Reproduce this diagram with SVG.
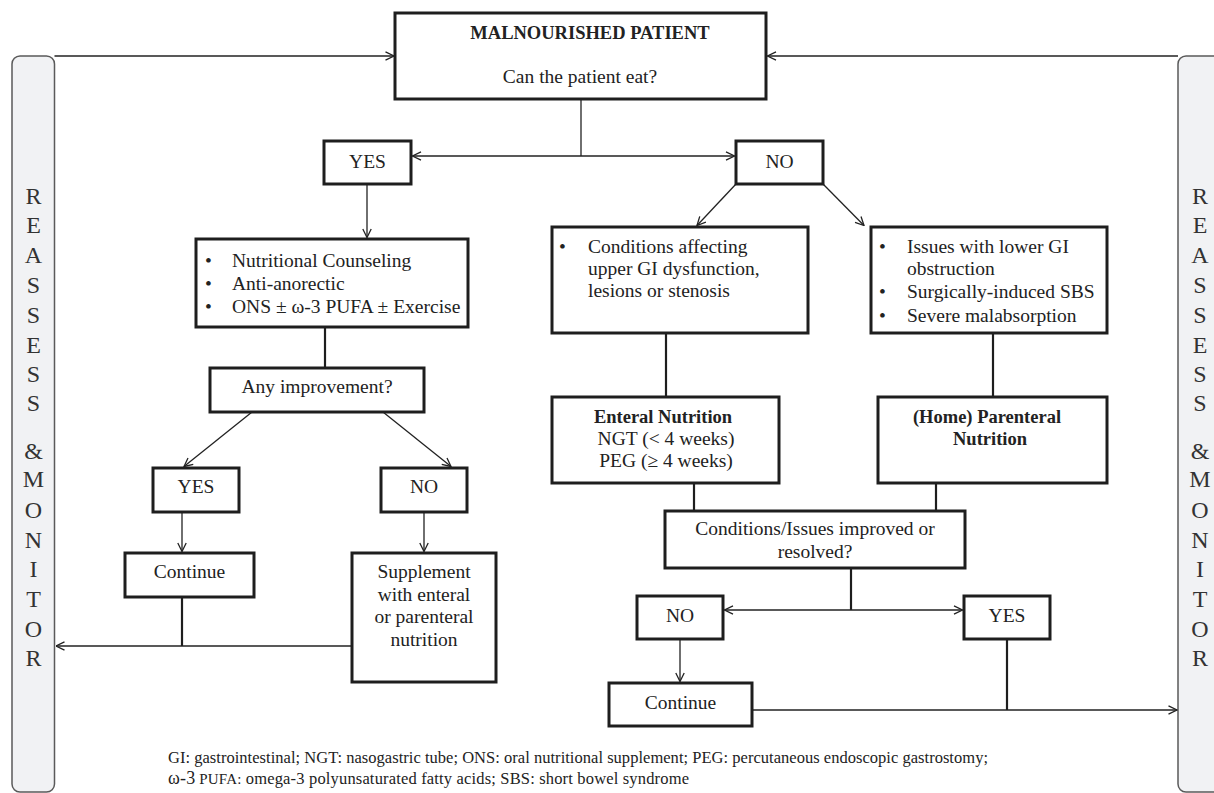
<svg xmlns="http://www.w3.org/2000/svg" width="1214" height="793" viewBox="0 0 1214 793">
<style>
.box{fill:#fff;stroke:#1e1e1e;stroke-width:3}
.side{fill:#f1f2f4;stroke:#5a5a5a;stroke-width:1.5}
.t{font-family:"Liberation Serif","Times New Roman",serif;font-size:19.5px;fill:#222}
.c{text-anchor:middle}
.b{font-weight:bold;font-size:18.5px}
.sl{font-family:"Liberation Serif","Times New Roman",serif;font-size:24px;fill:#333;text-anchor:middle}
.fn{font-family:"Liberation Serif","Times New Roman",serif;font-size:16.5px;fill:#222}
.ar{fill:none;stroke:#222;stroke-width:1.3;marker-end:url(#ah)}
.ln{fill:none;stroke:#1e1e1e;stroke-width:2.2}
.thin{fill:none;stroke:#222;stroke-width:1.3}
</style>
<defs>
<marker id="ah" viewBox="0 0 10 10" refX="9.5" refY="5" markerWidth="10" markerHeight="10" markerUnits="userSpaceOnUse" orient="auto">
<path d="M1,0.8 L9.5,5 L1,9.2" fill="none" stroke="#222" stroke-width="1.3"/>
</marker>
</defs>
<rect width="1214" height="793" fill="#fff"/>

<g id="reassess-left">
<rect class="side" x="12" y="56" width="42.5" height="736" rx="8"/>
<text class="sl" x="33.5" y="204">R</text>
<text class="sl" x="33.5" y="233">E</text>
<text class="sl" x="33.5" y="263">A</text>
<text class="sl" x="33.5" y="293">S</text>
<text class="sl" x="33.5" y="323">S</text>
<text class="sl" x="33.5" y="353">E</text>
<text class="sl" x="33.5" y="382">S</text>
<text class="sl" x="33.5" y="411">S</text>
<text class="sl" x="33.5" y="459">&amp;</text>
<text class="sl" x="33.5" y="487">M</text>
<text class="sl" x="33.5" y="518">O</text>
<text class="sl" x="33.5" y="548">N</text>
<text class="sl" x="33.5" y="577">I</text>
<text class="sl" x="33.5" y="607">T</text>
<text class="sl" x="33.5" y="637">O</text>
<text class="sl" x="33.5" y="666">R</text>
</g>

<g id="reassess-right">
<rect class="side" x="1178" y="56" width="60" height="736" rx="8"/>
<text class="sl" x="1200" y="204">R</text>
<text class="sl" x="1200" y="233">E</text>
<text class="sl" x="1200" y="263">A</text>
<text class="sl" x="1200" y="293">S</text>
<text class="sl" x="1200" y="323">S</text>
<text class="sl" x="1200" y="353">E</text>
<text class="sl" x="1200" y="382">S</text>
<text class="sl" x="1200" y="411">S</text>
<text class="sl" x="1200" y="459">&amp;</text>
<text class="sl" x="1200" y="487">M</text>
<text class="sl" x="1200" y="518">O</text>
<text class="sl" x="1200" y="548">N</text>
<text class="sl" x="1200" y="577">I</text>
<text class="sl" x="1200" y="607">T</text>
<text class="sl" x="1200" y="637">O</text>
<text class="sl" x="1200" y="666">R</text>
</g>

<g id="connectors">
<path class="ar" d="M54.5,56 H394"/>
<path class="ar" d="M1178,56 H767.5"/>
<path class="thin" d="M581,99 V156"/>
<path class="ar" d="M581,156 H412.5"/>
<path class="ar" d="M581,156 H734.5"/>
<path class="ar" d="M367,184 V237.5"/>
<path class="ar" d="M736,184 L697,225.5"/>
<path class="ar" d="M823,184 L864,225.5"/>
<path class="ln" d="M325,327 V368"/>
<path class="ar" d="M252,412 L184,466.5"/>
<path class="ar" d="M383,412 L451,466.5"/>
<path class="ar" d="M182,512 V551.5"/>
<path class="ar" d="M424,512 V551.5"/>
<path class="ln" d="M182,597 V646"/>
<path class="ar" d="M352,646 H56"/>
<path class="ln" d="M666,333 V397"/>
<path class="ln" d="M993,333 V397"/>
<path class="ln" d="M694,483 V511"/>
<path class="ln" d="M936,483 V511"/>
<path class="ln" d="M851,568 V610"/>
<path class="ar" d="M851,610 H724.5"/>
<path class="ar" d="M851,610 H962.5"/>
<path class="ar" d="M680,639 V681.5"/>
<path class="ln" d="M1007,639 V710"/>
<path class="ar" d="M752,710 H1177"/>
</g>

<g id="malnourished">
<rect class="box" x="395" y="13" width="371" height="86"/>
<text class="t b c" x="590" y="39">MALNOURISHED PATIENT</text>
<text class="t c" x="580" y="83">Can the patient eat?</text>
</g>

<g id="yes1">
<rect class="box" x="324" y="141" width="87" height="43"/>
<text class="t c" x="367.5" y="168">YES</text>
</g>

<g id="no1">
<rect class="box" x="736" y="141" width="87" height="43"/>
<text class="t c" x="779.5" y="168">NO</text>
</g>

<g id="counseling">
<rect class="box" x="196" y="239" width="272" height="88"/>
<text class="t" x="205" y="267">•</text>
<text class="t" x="232" y="267">Nutritional Counseling</text>
<text class="t" x="205" y="290">•</text>
<text class="t" x="232" y="290">Anti-anorectic</text>
<text class="t" x="205" y="313">•</text>
<text class="t" x="232" y="313">ONS ± ω-3 PUFA ± Exercise</text>
</g>

<g id="upper-gi">
<rect class="box" x="552" y="227" width="256" height="106"/>
<text class="t" x="559" y="253">•</text>
<text class="t" x="588" y="253">Conditions affecting</text>
<text class="t" x="588" y="275">upper GI dysfunction,</text>
<text class="t" x="588" y="297">lesions or stenosis</text>
</g>

<g id="lower-gi">
<rect class="box" x="871" y="227" width="236" height="106"/>
<text class="t" x="879" y="253">•</text>
<text class="t" x="907" y="253">Issues with lower GI</text>
<text class="t" x="907" y="275">obstruction</text>
<text class="t" x="879" y="298">•</text>
<text class="t" x="907" y="298">Surgically-induced SBS</text>
<text class="t" x="879" y="322">•</text>
<text class="t" x="907" y="322">Severe malabsorption</text>
</g>

<g id="any-improvement">
<rect class="box" x="210" y="368" width="214" height="44"/>
<text class="t c" x="317" y="393">Any improvement?</text>
</g>

<g id="enteral">
<rect class="box" x="552" y="397" width="227" height="86"/>
<text class="t b c" x="663" y="423">Enteral Nutrition</text>
<text class="t c" x="666" y="445">NGT (&lt; 4 weeks)</text>
<text class="t c" x="666" y="467">PEG (≥ 4 weeks)</text>
</g>

<g id="parenteral">
<rect class="box" x="878" y="397" width="229" height="86"/>
<text class="t b c" x="987" y="423">(Home) Parenteral</text>
<text class="t b c" x="990" y="445">Nutrition</text>
</g>

<g id="yes2">
<rect class="box" x="153" y="468" width="86" height="44"/>
<text class="t c" x="196" y="493">YES</text>
</g>

<g id="no2">
<rect class="box" x="381" y="468" width="86" height="44"/>
<text class="t c" x="424" y="493">NO</text>
</g>

<g id="continue1">
<rect class="box" x="125" y="553" width="129" height="44"/>
<text class="t c" x="189.5" y="578">Continue</text>
</g>

<g id="supplement">
<rect class="box" x="352" y="553" width="144" height="129"/>
<text class="t c" x="424" y="578">Supplement</text>
<text class="t c" x="424" y="601">with enteral</text>
<text class="t c" x="424" y="623">or parenteral</text>
<text class="t c" x="424" y="646">nutrition</text>
</g>

<g id="conditions-improved">
<rect class="box" x="665" y="511" width="300" height="57"/>
<text class="t c" x="815" y="535">Conditions/Issues improved or</text>
<text class="t c" x="815" y="558">resolved?</text>
</g>

<g id="no3">
<rect class="box" x="637" y="596" width="86" height="43"/>
<text class="t c" x="680" y="622">NO</text>
</g>

<g id="yes3">
<rect class="box" x="964" y="596" width="86" height="43"/>
<text class="t c" x="1007" y="622">YES</text>
</g>

<g id="continue2">
<rect class="box" x="609" y="683" width="143" height="43"/>
<text class="t c" x="680.5" y="709">Continue</text>
</g>

<g id="footnote">
<text class="fn" x="168" y="763" textLength="820" lengthAdjust="spacing">GI: gastrointestinal; NGT: nasogastric tube; ONS: oral nutritional supplement; PEG: percutaneous endoscopic gastrostomy;</text>
<text class="fn" x="168" y="784" textLength="521" lengthAdjust="spacing"><tspan font-size="18px">ω-3</tspan><tspan font-size="15px"> PUFA:</tspan>  omega-3 polyunsaturated fatty acids; SBS: short bowel syndrome</text>
</g>
</svg>
